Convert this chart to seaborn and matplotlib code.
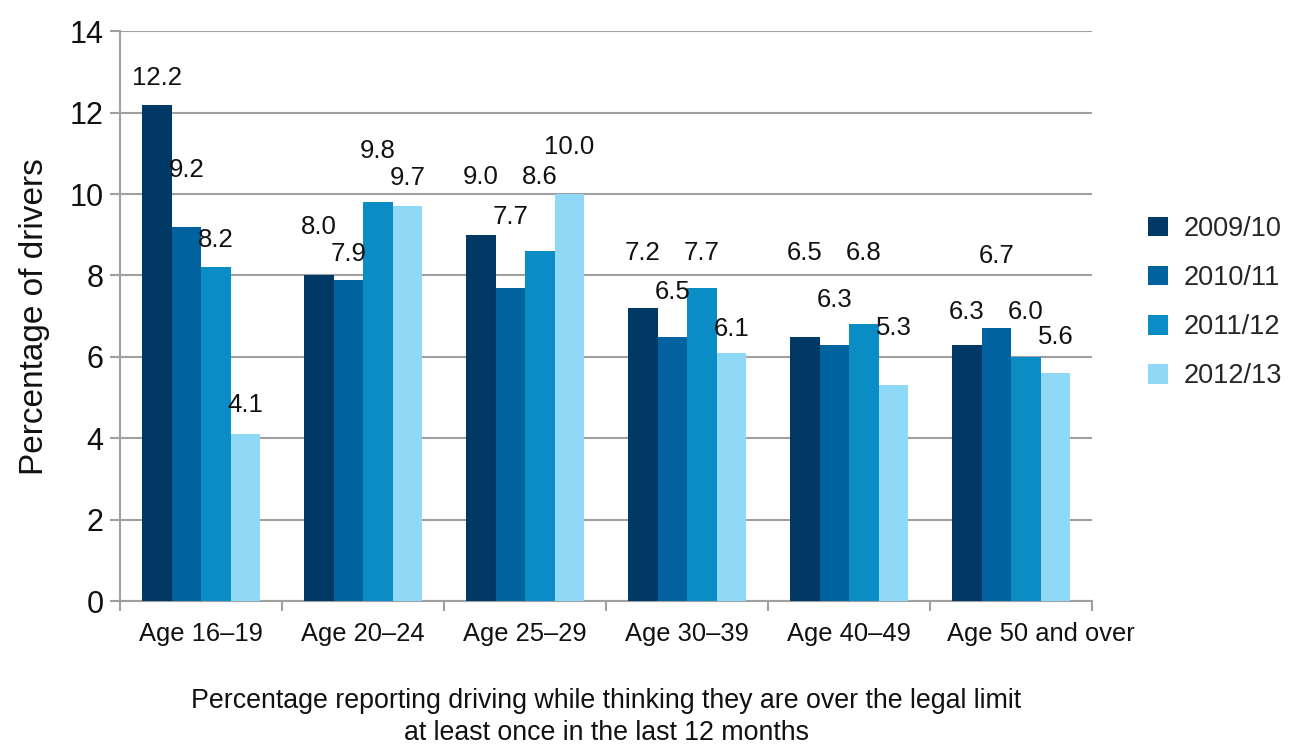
import pandas as pd
import matplotlib
matplotlib.use("Agg")
import matplotlib.pyplot as plt
import matplotlib.transforms as mtransforms
import seaborn as sns

# data
age_groups = ["Age 16–19", "Age 20–24", "Age 25–29", "Age 30–39", "Age 40–49", "Age 50 and over"]
years = ["2009/10", "2010/11", "2011/12", "2012/13"]
pct_2009_10 = [12.2, 8.0, 9.0, 7.2, 6.5, 6.3]
pct_2010_11 = [9.2, 7.9, 7.7, 6.5, 6.3, 6.7]
pct_2011_12 = [8.2, 9.8, 8.6, 7.7, 6.8, 6.0]
pct_2012_13 = [4.1, 9.7, 10.0, 6.1, 5.3, 5.6]

# how far each value label sits above its bar (data units), as in the original
label_lift = {
    "2009/10": [0.65, 1.19, 1.41, 1.35, 2.05, 0.80],
    "2010/11": [1.39, 0.62, 1.73, 1.09, 1.09, 1.77],
    "2011/12": [0.67, 1.25, 1.81, 0.85, 1.75, 1.10],
    "2012/13": [0.71, 0.69, 1.15, 0.58, 1.41, 0.88],
}

series = [pct_2009_10, pct_2010_11, pct_2011_12, pct_2012_13]
rows = []
for yr, vals in zip(years, series):
    for grp, v in zip(age_groups, vals):
        rows.append({"age": grp, "year": yr, "pct": v})
df = pd.DataFrame(rows)

colors = ["#003866", "#00629e", "#0a8dc5", "#8fd9f6"]
grey = "#a0a0a0"

sns.set_theme(style="white")
plt.rcParams["font.family"] = ["Liberation Sans", "DejaVu Sans"]

fig = plt.figure(figsize=(12.91, 7.44), dpi=100)
ax = fig.add_axes([0.093, 0.192, 0.753, 0.766])

sns.barplot(data=df, x="age", y="pct", hue="year", order=age_groups,
            hue_order=years, palette=colors, width=0.73, gap=0,
            saturation=1, edgecolor="none", ax=ax, legend=True, zorder=3)

# value labels
for yr, cont in zip(years, ax.containers):
    for bar, lift in zip(cont, label_lift[yr]):
        h = bar.get_height()
        ax.text(bar.get_x() + bar.get_width() / 2, h + lift, f"{h:.1f}",
                ha="center", va="center", fontsize=18.5, color="#111111")

ax.set_ylim(0, 14)
ax.set_yticks(range(0, 15, 2))
ax.set_xlim(-0.5, len(age_groups) - 0.5)
ax.yaxis.grid(True, color=grey, linewidth=1.5, zorder=0)
ax.set_axisbelow(True)

for side in ["top", "right"]:
    ax.spines[side].set_visible(False)
for side in ["left", "bottom"]:
    ax.spines[side].set_color(grey)
    ax.spines[side].set_linewidth(1.5)

ax.tick_params(axis="y", length=7, width=1.5, color=grey, pad=5,
               labelsize=22, labelcolor="#111111", left=True)
ax.set_xticks([i - 0.5 for i in range(len(age_groups) + 1)], minor=True)
ax.tick_params(axis="x", which="minor", length=7, width=1.5, color=grey,
               bottom=True)
ax.tick_params(axis="x", which="major", length=0, pad=15, labelsize=18.4,
               labelcolor="#111111")

# the last category label is nudged right in the original
last = ax.get_xticklabels()[-1]
last.set_transform(last.get_transform() +
                   mtransforms.ScaledTranslation(0.30, 0, fig.dpi_scale_trans))

ax.set_ylabel("Percentage of drivers", fontsize=24, color="#111111", labelpad=14)
ax.set_xlabel("Percentage reporting driving while thinking they are over the legal limit\n"
              "at least once in the last 12 months",
              fontsize=19.3, color="#111111", labelpad=30, linespacing=1.3)

handles, labels = ax.get_legend_handles_labels()
ax.legend(handles, labels, loc="center left", bbox_to_anchor=(0.881, 0.593),
          bbox_transform=fig.transFigure, frameon=False, fontsize=19.5,
          handlelength=0.72, handleheight=0.72, handletextpad=0.6,
          labelspacing=0.85, borderaxespad=0)

fig.savefig("out.png", dpi=100)
